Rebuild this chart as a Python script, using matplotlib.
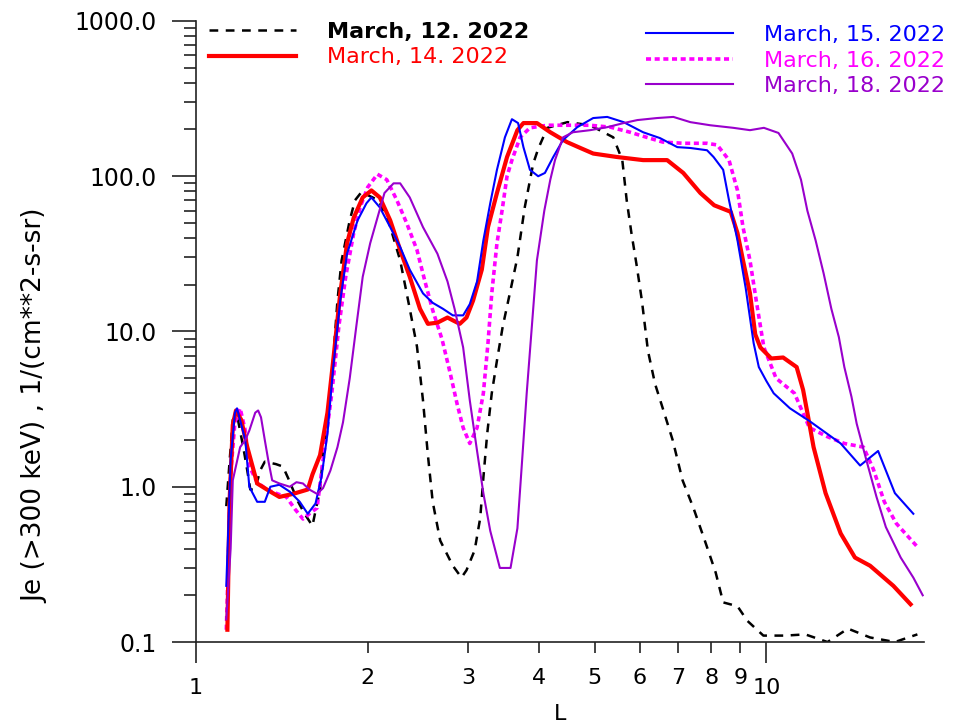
import matplotlib
matplotlib.use('Agg')
import matplotlib.pyplot as plt
from matplotlib.ticker import FixedLocator, FixedFormatter, NullFormatter
import numpy as np

# March 12, 2022 (black dashed)
L_12 = [1.13, 1.145, 1.16, 1.18, 1.21, 1.23, 1.245, 1.27, 1.295, 1.32, 1.38, 1.42, 1.45, 1.51,
        1.55, 1.60, 1.62, 1.65, 1.67, 1.73, 1.77, 1.80, 1.86, 1.90, 1.95, 2.09, 2.18, 2.28, 2.37,
        2.44, 2.50, 2.55, 2.60, 2.68, 2.82, 2.92, 2.98, 3.08, 3.15, 3.19, 3.24, 3.30, 3.37, 3.45,
        3.56, 3.66, 3.77, 3.90, 3.98, 4.13, 4.48, 4.91, 5.39, 5.59, 5.69, 5.80, 5.93, 6.05, 6.20,
        6.38, 6.60, 6.85, 7.13, 7.45, 7.80, 8.15, 8.40, 8.90, 9.26, 9.88, 10.8, 11.7, 12.8, 13.9,
        15.2, 16.8, 18.4]
J_12 = [0.75, 1.45, 2.7, 2.9, 1.8, 1.27, 0.96, 0.96, 1.27, 1.45, 1.4, 1.35, 1.14, 0.8,
        0.67, 0.56, 0.7, 0.96, 1.6, 5.0, 15.8, 28.7, 52, 70, 79, 70, 50, 28.7, 14,
        8, 3.6, 1.6, 0.8, 0.45, 0.31, 0.26, 0.29, 0.39, 0.63, 1.14, 2.2, 4.0, 6.5, 10.8,
        18.5, 30, 63, 120, 150, 205, 223, 213, 178, 127, 70, 43, 26, 15.8, 7.5,
        4.6, 3.1, 2.0, 1.1, 0.73, 0.45, 0.28, 0.18, 0.17, 0.137, 0.11, 0.11, 0.112, 0.10, 0.122,
        0.107, 0.10, 0.112]

# March 14, 2022 (red)
L_14 = [1.135, 1.145, 1.16, 1.175, 1.20, 1.23, 1.28, 1.35, 1.40, 1.48, 1.57, 1.60, 1.65, 1.70,
        1.74, 1.79, 1.84, 1.89, 1.96, 2.03, 2.10, 2.19, 2.28, 2.37, 2.47, 2.55, 2.65, 2.76, 2.82,
        2.90, 2.98, 3.06, 3.17, 3.25, 3.37, 3.51, 3.66, 3.75, 3.96, 4.18, 4.47, 4.72, 4.97, 5.47,
        6.08, 6.70, 7.15, 7.66, 8.10, 8.66, 8.90, 9.10, 9.36, 9.56, 9.76, 10.2, 10.7, 11.3, 11.6,
        11.8, 12.1, 12.7, 13.5, 14.3, 15.2, 16.7, 17.9]
J_14 = [0.12, 0.8, 2.5, 3.1, 2.7, 1.8, 1.05, 0.93, 0.86, 0.9, 0.96, 1.2, 1.6, 3.0,
        6.5, 17.6, 37, 54, 73, 81, 73, 52, 33.5, 22.5, 14, 11.2, 11.4, 12.3, 11.8,
        11.2, 12.3, 15.8, 25, 47, 78, 133, 198, 220, 220, 192, 166, 152, 140, 133,
        127, 127, 105, 78, 65, 59, 43, 28.7, 17.6, 9.6, 7.9, 6.7, 6.8, 5.9, 4.2,
        3.0, 1.8, 0.91, 0.5, 0.35, 0.31, 0.23, 0.175]

# March 15, 2022 (blue)
L_15 = [1.13, 1.15, 1.17, 1.18, 1.22, 1.24, 1.28, 1.32, 1.35, 1.40, 1.46, 1.52, 1.57, 1.62,
        1.66, 1.70, 1.74, 1.79, 1.84, 1.92, 1.99, 2.03, 2.10, 2.19, 2.28, 2.37, 2.50, 2.60, 2.71,
        2.82, 2.94, 3.02, 3.11, 3.19, 3.28, 3.37, 3.48, 3.58, 3.67, 3.75, 3.85, 3.98, 4.09, 4.23,
        4.40, 4.66, 4.97, 5.26, 5.62, 6.08, 6.51, 6.98, 7.36, 7.87, 8.08, 8.40, 8.60, 8.90, 9.20,
        9.50, 9.70, 10.0, 10.3, 11.0, 11.9, 13.5, 14.6, 15.7, 16.8, 18.1]
J_15 = [0.23, 1.5, 3.0, 3.2, 2.0, 1.0, 0.8, 0.8, 1.0, 1.03, 0.93, 0.8, 0.67, 0.78,
        1.16, 2.2, 5.9, 15.8, 31.7, 52, 67, 73, 63, 47, 35, 25, 17.6, 15.3, 14,
        12.7, 12.7, 15, 21, 38.6, 67, 110, 178, 233, 220, 154, 110, 100, 105, 133,
        171, 207, 237, 241, 223, 192, 176, 154, 152, 147, 133, 110, 70, 38.6, 19,
        8.4, 5.9, 4.8, 4.0, 3.2, 2.65, 1.9, 1.37, 1.7, 0.91, 0.67]

# March 16, 2022 (magenta dotted)
L_16 = [1.13, 1.135, 1.15, 1.17, 1.195, 1.22, 1.24, 1.28, 1.33, 1.39, 1.44, 1.49, 1.54, 1.58,
        1.63, 1.67, 1.73, 1.78, 1.83, 1.89, 1.94, 2.00, 2.08, 2.16, 2.25, 2.34, 2.44, 2.52, 2.60,
        2.70, 2.79, 2.87, 2.94, 3.02, 3.11, 3.19, 3.25, 3.30, 3.37, 3.44, 3.51, 3.58, 3.70, 3.85,
        4.13, 4.48, 4.91, 5.33, 5.77, 6.17, 6.58, 7.15, 7.87, 8.20, 8.60, 8.90, 9.10, 9.36, 9.60,
        9.90, 10.4, 11.2, 11.9, 12.8, 13.7, 14.8, 15.4, 16.1, 16.9, 18.4]
J_16 = [0.12, 0.2, 1.2, 2.6, 3.2, 2.3, 1.35, 1.07, 0.96, 0.9, 0.86, 0.72, 0.62, 0.67,
        0.73, 1.48, 4.0, 10.8, 22.5, 43, 63, 85, 103, 95, 70, 50, 33.5, 21, 13.7,
        8.9, 5.4, 3.4, 2.4, 1.9, 2.4, 4.0, 8.4, 17.6, 37, 60, 100, 127, 178, 205,
        213, 213, 213, 207, 192, 178, 166, 163, 163, 159, 127, 81, 47, 28.7, 15.8,
        7.9, 5.0, 4.0, 2.4, 2.1, 1.9, 1.8, 1.3, 0.8, 0.58, 0.41]

# March 18, 2022 (purple)
L_18 = [1.13, 1.15, 1.16, 1.195, 1.22, 1.24, 1.27, 1.285, 1.30, 1.32, 1.34, 1.36, 1.40, 1.46,
        1.50, 1.54, 1.58, 1.63, 1.67, 1.72, 1.77, 1.81, 1.86, 1.91, 1.96, 2.02, 2.08, 2.14, 2.22,
        2.28, 2.37, 2.50, 2.65, 2.76, 2.84, 2.94, 3.02, 3.11, 3.19, 3.28, 3.41, 3.56, 3.66, 3.73,
        3.80, 3.88, 3.96, 4.08, 4.18, 4.26, 4.40, 4.58, 4.91, 5.26, 5.62, 5.94, 6.43, 6.87, 7.36,
        7.97, 8.75, 9.36, 9.90, 10.5, 11.1, 11.5, 11.8, 12.2, 12.6, 13.0, 13.4, 13.7, 14.1, 14.4,
        15.0, 15.6, 16.2, 17.2, 18.1, 18.8]
J_18 = [0.14, 0.4, 1.1, 1.8, 2.0, 2.3, 3.0, 3.1, 2.8, 2.0, 1.45, 1.1, 1.05, 1.0,
        1.07, 1.05, 0.96, 0.9, 0.98, 1.27, 1.8, 2.6, 5.0, 10.8, 22.5, 37, 54, 78, 90,
        90, 73, 47, 31.7, 21, 14, 7.9, 3.6, 1.7, 0.91, 0.52, 0.3, 0.3, 0.54, 1.47,
        4.0, 10.8, 28.7, 60, 95, 127, 178, 192, 198, 207, 220, 230, 237, 241, 223,
        213, 205, 198, 205, 190, 140, 95, 60, 38.6, 23.7, 14, 9.2, 5.9, 3.8, 2.55,
        1.45, 0.86, 0.55, 0.35, 0.26, 0.2]

labels = ['March, 12. 2022', 'March, 14. 2022', 'March, 15. 2022',
          'March, 16. 2022', 'March, 18. 2022']
colors = ['black', '#FF0000', '#0000FF', '#FF00FF', '#9900CC']

fig = plt.figure(figsize=(9.69, 7.23), dpi=100)
ax = fig.add_axes([0.2023, 0.112, 0.7513, 0.859])

l12, = ax.plot(L_12, J_12, color=colors[0], lw=1.8, dashes=(3.5, 3), label=labels[0])
l16, = ax.plot(L_16, J_16, color=colors[3], lw=2.6, dashes=(1.4, 1.0), label=labels[3])
l14, = ax.plot(L_14, J_14, color=colors[1], lw=3.0, label=labels[1])
l15, = ax.plot(L_15, J_15, color=colors[2], lw=1.5, label=labels[2])
l18, = ax.plot(L_18, J_18, color=colors[4], lw=1.5, label=labels[4])

ax.set_xscale('log')
ax.set_yscale('log')
ax.set_xlim(1, 18.9)
ax.set_ylim(0.1, 1000)

ax.spines['top'].set_visible(False)
ax.spines['right'].set_visible(False)
for s in ['left', 'bottom']:
    ax.spines[s].set_linewidth(1.2)
    ax.spines[s].set_color('#222222')

ax.xaxis.set_major_locator(FixedLocator([1, 10]))
ax.xaxis.set_major_formatter(FixedFormatter(['1', '10']))
ax.xaxis.set_minor_locator(FixedLocator([2, 3, 4, 5, 6, 7, 8, 9]))
ax.xaxis.set_minor_formatter(FixedFormatter(['2', '3', '4', '5', '6', '7', '8', '9']))

ax.yaxis.set_major_locator(FixedLocator([0.1, 1, 10, 100, 1000]))
ax.yaxis.set_major_formatter(FixedFormatter(['0.1', '1.0', '10.0', '100.0', '1000.0']))
ax.yaxis.set_minor_locator(FixedLocator([m * 10.0**e for e in range(-1, 3) for m in range(2, 10)]))
ax.yaxis.set_minor_formatter(NullFormatter())

ax.tick_params(axis='x', which='major', direction='out', length=15, width=1.2, pad=11, labelsize=16, color='#222222')
ax.tick_params(axis='x', which='minor', direction='out', length=8, width=1.2, pad=11, labelsize=16, color='#222222')
ax.tick_params(axis='y', which='major', direction='out', length=17, width=1.2, pad=11, labelsize=17, color='#222222')
ax.tick_params(axis='y', which='minor', direction='out', length=8.5, width=1.2, color='#222222')

ax.set_xlabel('L', fontsize=16, labelpad=4)
ax.set_ylabel('Je (>300 keV) , 1/(cm**2-s-sr)', fontsize=19)
ax.yaxis.set_label_coords(-0.203, 0.38)

leg1 = ax.legend(handles=[l12, l14], loc='upper left', bbox_to_anchor=(0.018, 0.9985),
                 frameon=False, fontsize=16, handlelength=3.9, handletextpad=1.4,
                 labelspacing=0.25, borderpad=0, borderaxespad=0)
for t, c in zip(leg1.get_texts(), [colors[0], colors[1]]):
    t.set_color(c)
leg1.get_texts()[0].set_fontweight('bold')
ax.add_artist(leg1)

leg2 = ax.legend(handles=[l15, l16, l18], loc='upper left', bbox_to_anchor=(0.618, 0.9935),
                 frameon=False, fontsize=16, handlelength=3.9, handletextpad=1.4,
                 labelspacing=0.25, borderpad=0, borderaxespad=0)
for t, c in zip(leg2.get_texts(), [colors[2], colors[3], colors[4]]):
    t.set_color(c)

plt.savefig('out.png', dpi=100)
